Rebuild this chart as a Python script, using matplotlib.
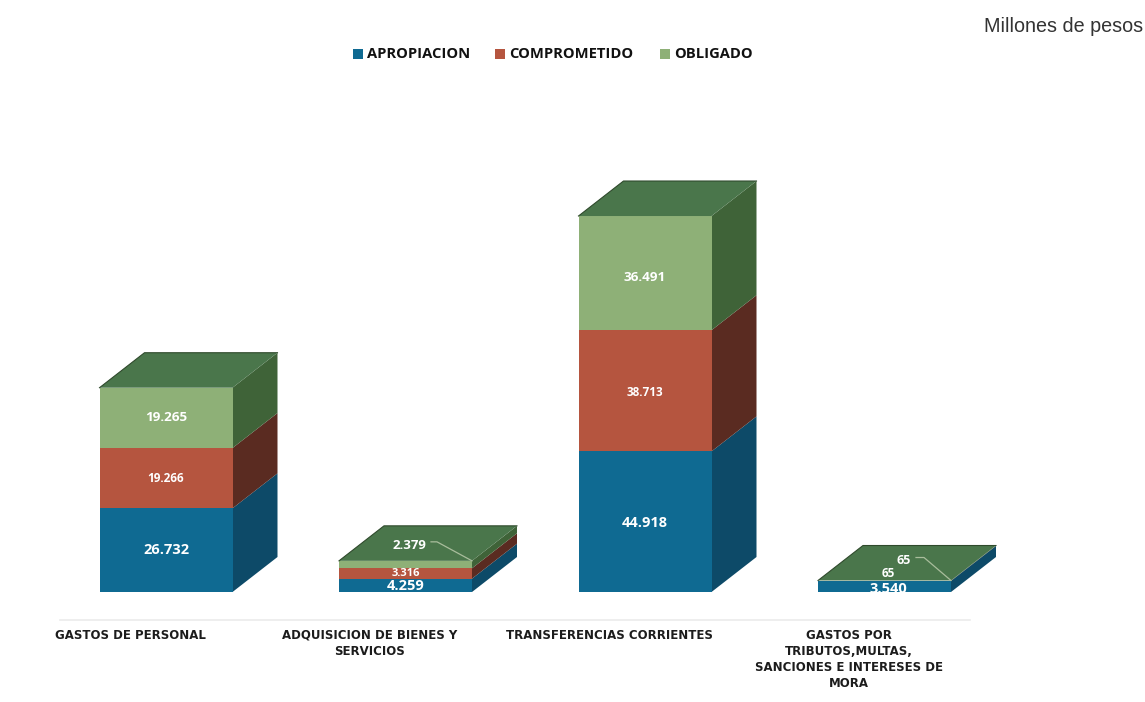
import matplotlib
matplotlib.use("Agg")
import matplotlib.pyplot as plt
from matplotlib.patches import Polygon, Rectangle

categorias = ["GASTOS DE PERSONAL", "ADQUISICION DE BIENES Y\nSERVICIOS",
              "TRANSFERENCIAS CORRIENTES",
              "GASTOS POR\nTRIBUTOS,MULTAS,\nSANCIONES E INTERESES DE\nMORA"]
series = ["APROPIACION", "COMPROMETIDO", "OBLIGADO"]
apropiacion = [26732, 4259, 44918, 3540]
comprometido = [19266, 3316, 38713, 65]
obligado = [19265, 2379, 36491, 65]
valores = [apropiacion, comprometido, obligado]

frente = ["#0f6a92", "#b5553f", "#8eb077"]
lateral = ["#0d4a68", "#5a2b21", "#3f6338"]
techo = "#4a764b"

# pixel scale of the plot, 1 category = 239.5 px, 1 peso unit = 0.00313 px
W, H = 1145, 702
X0, Y0 = 166, 592
PX_X = 1 / 239.5
PX_Y = 1 / 0.00313
ancho = 133 * PX_X
dx = 45 * PX_X
dy = 35 * PX_Y

fig = plt.figure(figsize=(W / 100, H / 100), dpi=100)
ax = fig.add_axes([0, 0, 1, 1])
ax.set_xlim(-X0 * PX_X, (W - X0) * PX_X)
ax.set_ylim(-(H - Y0) * PX_Y, Y0 * PX_Y)
ax.axis("off")


def caja(x, y0, y1, i):
    xa, xb = x - ancho / 2, x + ancho / 2
    ax.add_patch(Polygon([(xb, y0), (xb + dx, y0 + dy), (xb + dx, y1 + dy), (xb, y1)],
                         fc=lateral[i], ec="none", zorder=2))
    ax.add_patch(Rectangle((xa, y0), ancho, y1 - y0, fc=frente[i], ec="none", zorder=3))


for c in range(len(categorias)):
    base = 0
    for i in range(3):
        caja(c, base, base + valores[i][c], i)
        base += valores[i][c]
    xa, xb = c - ancho / 2, c + ancho / 2
    ax.add_patch(Polygon([(xa, base), (xb, base), (xb + dx, base + dy), (xa + dx, base + dy)],
                         fc=techo, ec="none", zorder=4))
    ax.plot([xa, xa + dx, xb + dx], [base, base + dy, base + dy],
            color="#2f4a2c", lw=0.8, zorder=5)

# tamaños de las etiquetas por serie
tam = [10.5, 8.5, 9.7]


def etiqueta(x, y, valor, size, off=(0, 0)):
    txt = f"{valor:,}".replace(",", ".")
    ax.text(x + off[0] * PX_X, y - off[1] * PX_Y, txt, color="white", fontsize=size,
            fontweight="bold", family="Open Sans", ha="center", va="center", zorder=6)


# ajuste fino en pixeles de algunas etiquetas (serie, categoria)
ajustes = {(2, 2): (0, 4), (1, 2): (0, 2), (0, 2): (0, 1)}
for c in (0, 2):
    base = 0
    for i in range(3):
        etiqueta(c, base + valores[i][c] / 2, valores[i][c], tam[i], ajustes.get((i, c), (0, 0)))
        base += valores[i][c]

# barras bajas, con etiquetas desplazadas
etiqueta(1, apropiacion[1] / 2, apropiacion[1], 10.5, off=(0, 1))
etiqueta(1, apropiacion[1] + comprometido[1] / 2, comprometido[1], 8)
tope1 = apropiacion[1] + comprometido[1] + obligado[1]
etiqueta(1, tope1, obligado[1], 9.5, off=(4, -15))
etiqueta(3, apropiacion[3] / 2, apropiacion[3], 10.5, off=(4, 3))
tope3 = apropiacion[3] + comprometido[3] + obligado[3]
etiqueta(3, tope3, comprometido[3], 8.5, off=(4, -7))
etiqueta(3, tope3, obligado[3], 9, off=(19, -20))

# lineas guia de las etiquetas
for c, tope, p1, p2 in ((1, tope1, -41, -35), (3, tope3, -35, -27)):
    xb = c + ancho / 2
    alto = 19 if c == 1 else 23
    ax.plot([xb + p1 * PX_X, xb + p2 * PX_X, xb],
            [tope + alto * PX_Y, tope + alto * PX_Y, tope],
            color="#a9bd9c", lw=0.9, zorder=6)

# eje inferior muy tenue
ax.plot([-106 * PX_X, 804 * PX_X], [-28 * PX_Y, -28 * PX_Y], color="#ebebeb", lw=1.2, zorder=1)

# rotulos de categoria, corridos a la izquierda de cada barra
eje_y = -37 * PX_Y
corrimiento = -36 * PX_X
for c, nombre in enumerate(categorias):
    ax.text(c + corrimiento, eje_y, nombre, fontsize=8.5, fontweight="bold", family="DejaVu Sans",
            color="#1c1c1c", ha="center", va="top", linespacing=1.3)

# leyenda
leg_x = [358, 500, 665]
for i, nombre in enumerate(series):
    ax.plot((leg_x[i] - X0) * PX_X, (Y0 - 54) * PX_Y, "s", ms=6.5, mew=0, color=frente[i])
    ax.text((leg_x[i] + 9 - X0) * PX_X, (Y0 - 54) * PX_Y, nombre, fontsize=10.6, fontweight="bold",
            family="Open Sans", color="#111111", ha="left", va="center")

ax.text((1143 - X0) * PX_X, (Y0 - 27) * PX_Y, "Millones de pesos", fontsize=14.2,
        family="Liberation Sans", color="#333333", ha="right", va="center")

fig.savefig("out.png", dpi=100)
